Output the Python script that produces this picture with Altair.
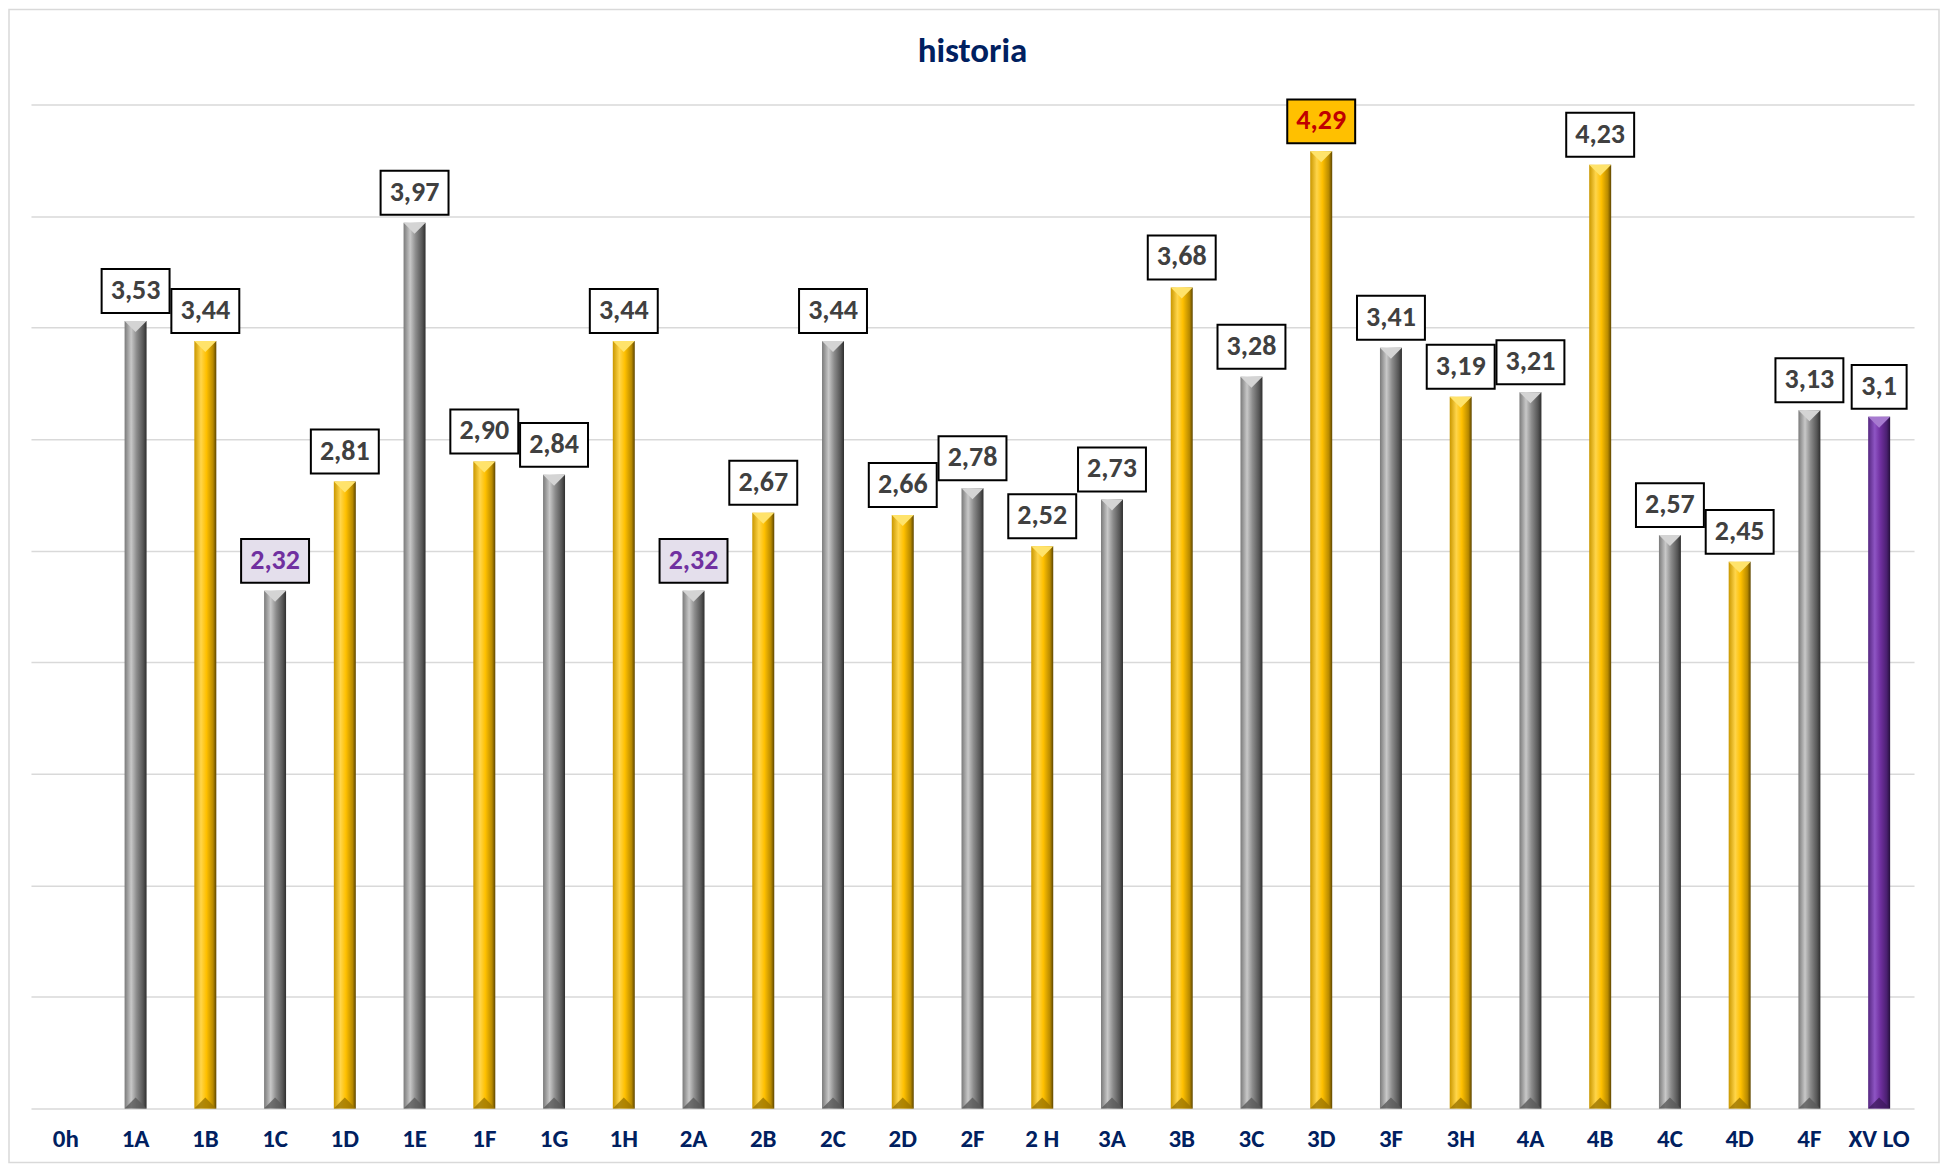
import altair as alt
import pandas as pd

categories = ["0h", "1A", "1B", "1C", "1D", "1E", "1F", "1G", "1H", "2A", "2B", "2C", "2D",
              "2F", "2 H", "3A", "3B", "3C", "3D", "3F", "3H", "4A", "4B", "4C", "4D", "4F", "XV LO"]
values = [None, 3.53, 3.44, 2.32, 2.81, 3.97, 2.90, 2.84, 3.44, 2.32, 2.67, 3.44, 2.66,
          2.78, 2.52, 2.73, 3.68, 3.28, 4.29, 3.41, 3.19, 3.21, 4.23, 2.57, 2.45, 3.13, 3.1]
labels = ["", "3,53", "3,44", "2,32", "2,81", "3,97", "2,90", "2,84", "3,44", "2,32", "2,67", "3,44", "2,66",
          "2,78", "2,52", "2,73", "3,68", "3,28", "4,29", "3,41", "3,19", "3,21", "4,23", "2,57", "2,45", "3,13", "3,1"]
kinds = ["none", "gray", "gold", "gray", "gold", "gray", "gold", "gray", "gold", "gray", "gold", "gray", "gold",
         "gray", "gold", "gray", "gold", "gray", "gold", "gray", "gold", "gray", "gold", "gray", "gold", "gray", "purple"]
grid_values = [0, 0.5, 1, 1.5, 2, 2.5, 3, 3.5, 4, 4.5]
title_text = "historia"

box_fill = ["#FFFFFF"] * len(categories)
text_col = ["#404040"] * len(categories)
for i, l in enumerate(labels):
    if l == "2,32":
        box_fill[i] = "#E4DFEC"
        text_col[i] = "#7030A0"
    if l == "4,29":
        box_fill[i] = "#FFC000"
        text_col[i] = "#C00000"

df = pd.DataFrame({"cat": categories, "value": values, "label": labels, "kind": kinds,
                   "boxfill": box_fill, "textcol": text_col})
df = df.astype(object).where(pd.notnull(df), None)

W, H = 1885, 1005
PL, PT, PR, PB = 23, 96, 26, 55
FONT = "Liberation Sans Narrow, Carlito, Lato, sans-serif"

base = alt.Chart(df)
x_enc = alt.X("cat:N", sort=categories,
              scale=alt.Scale(paddingInner=0, paddingOuter=0),
              axis=alt.Axis(title=None, labelAngle=0, domain=False, ticks=False, grid=False,
                            labelFont=FONT, labelFontSize=25, labelFontWeight="bold",
                            labelColor="#002060", labelPadding=18))
y_enc = alt.Y("value:Q", scale=alt.Scale(domain=[0, 4.5], nice=False),
              axis=alt.Axis(title=None, labels=False, ticks=False, domain=False,
                            values=grid_values,
                            grid=True, gridColor="#D9D9D9", gridWidth=1.5))

def grad(stops):
    return alt.Gradient(gradient="linear", x1=0, x2=1, y1=0, y2=0,
                        stops=[alt.GradientStop(color=c, offset=o) for o, c in stops])

grads = {
    "gray": grad([(0, "#7A7A7A"), (0.3, "#C8C8C8"), (0.55, "#8C8C8C"), (0.85, "#555555"), (1, "#2E2E2E")]),
    "gold": grad([(0, "#C99700"), (0.3, "#FFD54A"), (0.55, "#FFC000"), (0.85, "#B88A00"), (1, "#5E4600")]),
    "purple": grad([(0, "#552680"), (0.3, "#8E55C4"), (0.55, "#7030A0"), (0.85, "#4A1F70"), (1, "#24103A")]),
}
tops = {"gray": "#D4D4D4", "gold": "#FFE36B", "purple": "#A77BD0"}
bottoms = {"gray": "#5A5A5A", "gold": "#9C7500", "purple": "#3E1A5E"}

layers = []
one = alt.Chart(pd.DataFrame({"t": [title_text]}))
border = one.mark_rect(
    fill="transparent", stroke="#D9D9D9", strokeWidth=1.5
).encode(x=alt.value(-PL + 1), x2=alt.value(W + PR - 1), y=alt.value(-PT + 1), y2=alt.value(H + PB - 1))
layers.append(border)
layers.append(one.mark_text(font=FONT, fontSize=35, fontWeight="bold", color="#002060",
                            align="center", baseline="middle")
              .encode(x=alt.value(W / 2), y=alt.value(-54), text="t:N"))

for k in ["gray", "gold", "purple"]:
    sub = base.transform_filter(alt.datum.kind == k)
    layers.append(sub.mark_bar(width=22, fill=grads[k]).encode(x=x_enc, y=y_enc))
    layers.append(sub.mark_point(shape="M-1,-0.5L1,-0.5L0,0.5Z", size=484, filled=True,
                                 fill=tops[k], opacity=1, strokeWidth=0, yOffset=5.5)
                  .encode(x=x_enc, y="value:Q"))
    layers.append(sub.mark_point(shape="M-1,0.5L1,0.5L0,-0.5Z", size=484, filled=True,
                                 fill=bottoms[k], opacity=0.8, strokeWidth=0, yOffset=-5.5)
                  .encode(x=x_enc, y=alt.datum(0)))

lab = base.transform_filter("datum.value != null")
for wbox, cond in [(68, "datum.label != '3,1'"), (55, "datum.label == '3,1'")]:
    layers.append(lab.transform_filter(cond).mark_bar(width=wbox, stroke="black", strokeWidth=2,
                                                      yOffset=-8, y2Offset=-52)
                  .encode(x=x_enc, y="value:Q", y2="value:Q",
                          fill=alt.Fill("boxfill:N", scale=None)))
layers.append(lab.mark_text(font=FONT, fontSize=28, fontWeight="bold", baseline="middle",
                            align="center", yOffset=-30)
              .encode(x=x_enc, y="value:Q", text="label:N",
                      color=alt.Color("textcol:N", scale=None)))

chart = alt.layer(*layers).properties(
    width=W, height=H,
    background="white",
    autosize=alt.AutoSizeParams(type="none"),
    padding={"left": PL, "top": PT, "right": PR, "bottom": PB},
).configure_view(strokeWidth=0, stroke="transparent")

chart.save("out.html", embed_options={"renderer": "svg", "actions": False})
